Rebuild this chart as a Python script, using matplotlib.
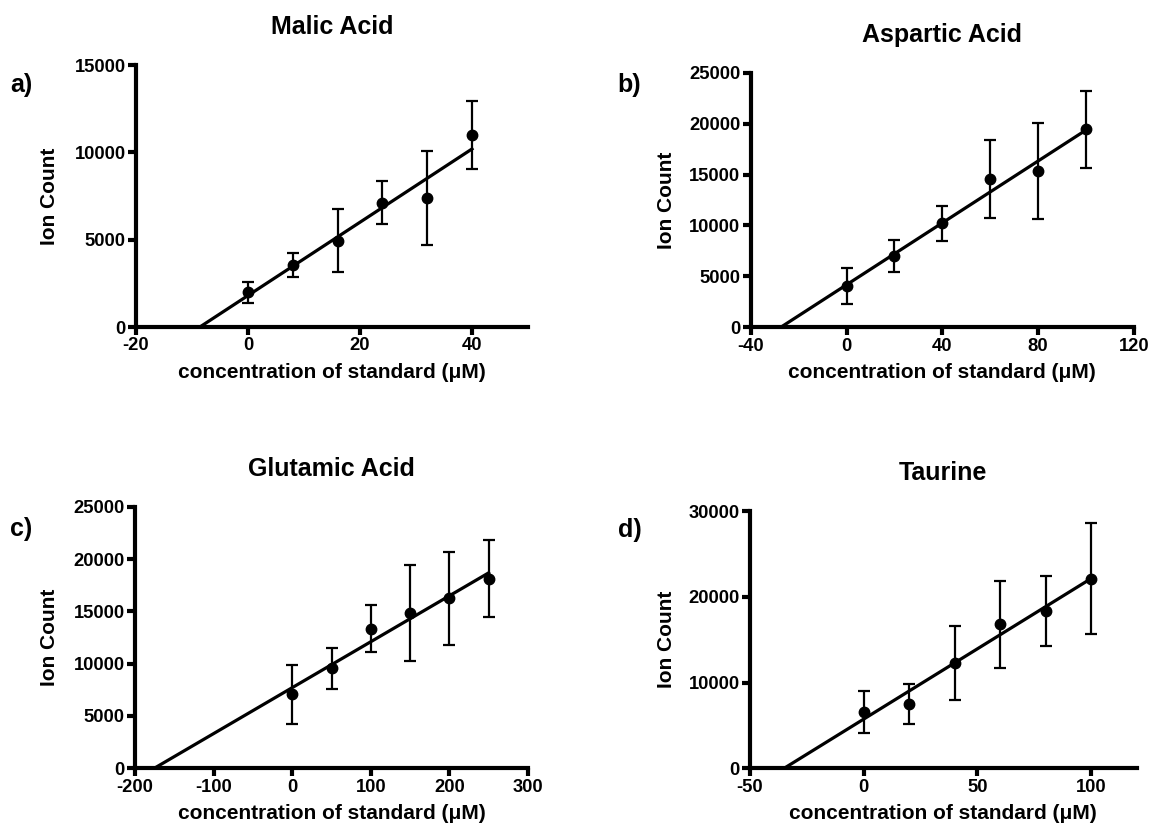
import numpy as np
import matplotlib
matplotlib.use("Agg")
import matplotlib.pyplot as plt

plt.rcParams['font.family'] = ['Liberation Sans', 'DejaVu Sans']
plt.rcParams['font.weight'] = 'bold'
plt.rcParams['axes.labelweight'] = 'bold'
plt.rcParams['axes.titleweight'] = 'bold'
plt.rcParams['axes.unicode_minus'] = False

# standard curves: mean ion count +/- error for each concentration
malic_x = [0, 8, 16, 24, 32, 40]
malic_y = [1990, 3550, 4940, 7120, 7400, 10990]
malic_err = [610, 680, 1790, 1240, 2690, 1960]

aspartic_x = [0, 20, 40, 60, 80, 100]
aspartic_y = [4060, 7000, 10210, 14560, 15380, 19440]
aspartic_err = [1750, 1540, 1730, 3790, 4700, 3770]

glutamic_x = [0, 50, 100, 150, 200, 250]
glutamic_y = [7070, 9550, 13340, 14840, 16240, 18120]
glutamic_err = [2790, 1940, 2230, 4570, 4420, 3660]

taurine_x = [0, 20, 40, 60, 80, 100]
taurine_y = [6570, 7500, 12280, 16790, 18340, 22110]
taurine_err = [2410, 2310, 4280, 5070, 4050, 6450]

panels = [
    ("Malic Acid", "a)", malic_x, malic_y, malic_err, (-20, 50), [-20, 0, 20, 40], (0, 15000), [0, 5000, 10000, 15000]),
    ("Aspartic Acid", "b)", aspartic_x, aspartic_y, aspartic_err, (-40, 120), [-40, 0, 40, 80, 120], (0, 25000), [0, 5000, 10000, 15000, 20000, 25000]),
    ("Glutamic Acid", "c)", glutamic_x, glutamic_y, glutamic_err, (-200, 300), [-200, -100, 0, 100, 200, 300], (0, 25000), [0, 5000, 10000, 15000, 20000, 25000]),
    ("Taurine", "d)", taurine_x, taurine_y, taurine_err, (-50, 120), [-50, 0, 50, 100], (0, 30000), [0, 10000, 20000, 30000]),
]

# axes boxes in figure pixels: left, right, top, bottom
W, H = 1152, 835
boxes = [
    (136, 528, 65, 327),
    (750.7, 1134, 72.7, 327.3),
    (135, 528, 506.7, 768.3),
    (750, 1136.6, 511, 768.3),
]
letter_pos = [(21, 85), (629, 85), (21, 529), (630, 530)]
ylabel_x = [59, 676, 59, 676]

fig = plt.figure(figsize=(W / 100, H / 100), dpi=100)

for i, (title, letter, x, y, err, xlim, xticks, ylim, yticks) in enumerate(panels):
    l, r, t, b = boxes[i]
    ax = fig.add_axes([l / W, 1 - b / H, (r - l) / W, (b - t) / H])

    x = np.array(x)
    y = np.array(y)
    slope, intercept = np.polyfit(x, y, 1)
    x0 = -intercept / slope
    ax.plot([x0, x.max()], [0, slope * x.max() + intercept], color='black', lw=2.3, zorder=2)

    ax.errorbar(x, y, yerr=err, fmt='o', color='black', ms=7.5, elinewidth=1.6,
                capsize=4.2, capthick=1.6, zorder=3, clip_on=False)

    ax.set_xlim(*xlim)
    ax.set_ylim(*ylim)
    ax.set_xticks(xticks)
    ax.set_yticks(yticks)
    ax.spines['top'].set_visible(False)
    ax.spines['right'].set_visible(False)
    for s in ('left', 'bottom'):
        ax.spines[s].set_linewidth(3)
    ax.tick_params(width=3, length=5.5, labelsize=13.2, pad=2)

    ax.set_title(title, fontsize=18, pad=22)
    ax.set_xlabel("concentration of standard (\u03bcM)", fontsize=15, labelpad=6)
    ax.set_ylabel("Ion Count", fontsize=15)
    ax.yaxis.set_label_coords((ylabel_x[i] - l) / (r - l), 0.5)

    fig.text(letter_pos[i][0] / W, 1 - letter_pos[i][1] / H, letter,
             fontsize=18, fontweight='bold', ha='center', va='center')

fig.savefig("out.png", dpi=100)
